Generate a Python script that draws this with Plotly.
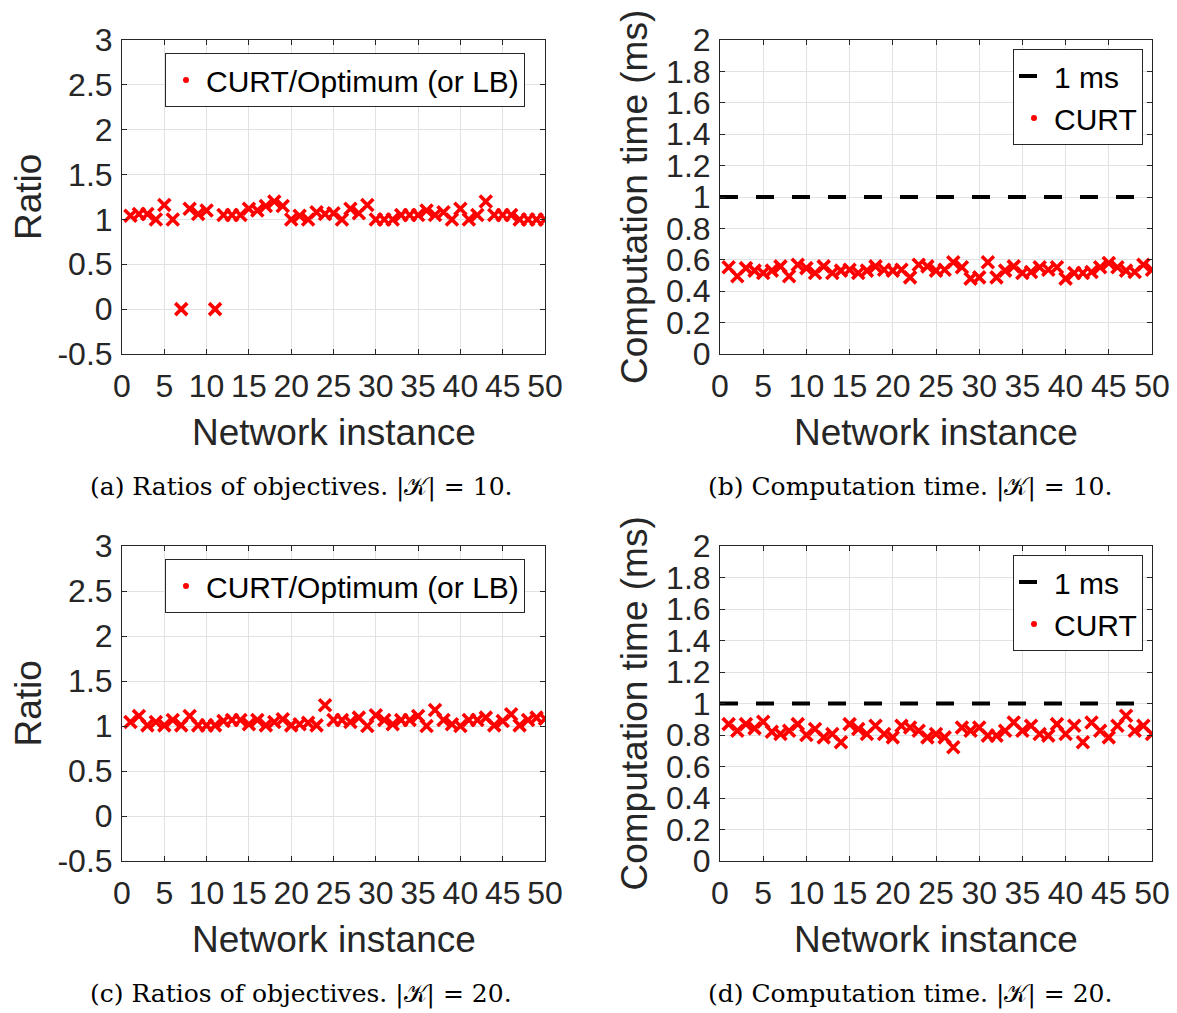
import plotly.graph_objects as go

W, H = 1177, 1013

# ---------------- data ----------------
instances = list(range(1, 51))

ratio_k10 = [1.04, 1.06, 1.06, 1.00, 1.16, 1.00, 0.00, 1.12, 1.06, 1.10,
             0.00, 1.05, 1.05, 1.05, 1.12, 1.10, 1.15, 1.20, 1.15, 1.00,
             1.04, 1.00, 1.08, 1.06, 1.07, 1.00, 1.12, 1.07, 1.16, 1.00,
             1.00, 1.00, 1.05, 1.05, 1.05, 1.10, 1.05, 1.08, 1.00, 1.12,
             1.00, 1.05, 1.20, 1.05, 1.05, 1.05, 1.00, 1.00, 1.00, 1.00]

time_k10 = [0.552, 0.495, 0.547, 0.531, 0.516, 0.531, 0.558, 0.495, 0.568, 0.547,
            0.516, 0.558, 0.516, 0.531, 0.537, 0.516, 0.531, 0.558, 0.537, 0.531,
            0.537, 0.488, 0.568, 0.558, 0.531, 0.537, 0.585, 0.552, 0.480, 0.488,
            0.585, 0.488, 0.531, 0.558, 0.516, 0.522, 0.552, 0.537, 0.552, 0.480,
            0.516, 0.516, 0.522, 0.552, 0.579, 0.552, 0.531, 0.522, 0.568, 0.537]

ratio_k20 = [1.044, 1.111, 1.007, 1.044, 1.007, 1.067, 1.007, 1.111, 1.007, 1.007,
             1.007, 1.056, 1.067, 1.067, 1.019, 1.067, 1.007, 1.044, 1.074, 1.007,
             1.019, 1.037, 1.007, 1.230, 1.067, 1.067, 1.044, 1.093, 1.000, 1.119,
             1.067, 1.019, 1.067, 1.067, 1.111, 1.000, 1.178, 1.067, 1.019, 1.000,
             1.067, 1.067, 1.093, 1.007, 1.056, 1.130, 1.007, 1.067, 1.093, 1.081]

time_k20 = [0.869, 0.827, 0.869, 0.842, 0.884, 0.821, 0.806, 0.827, 0.869, 0.800,
            0.838, 0.785, 0.806, 0.754, 0.869, 0.838, 0.806, 0.859, 0.806, 0.785,
            0.859, 0.848, 0.827, 0.785, 0.806, 0.785, 0.722, 0.848, 0.827, 0.848,
            0.796, 0.796, 0.827, 0.880, 0.827, 0.859, 0.806, 0.796, 0.869, 0.806,
            0.859, 0.754, 0.880, 0.827, 0.785, 0.859, 0.922, 0.827, 0.859, 0.806]

threshold_x = [0, 50]
threshold_ms = [1, 1]

x_ticks = [0, 5, 10, 15, 20, 25, 30, 35, 40, 45, 50]
ratio_ticks = [-0.5, 0, 0.5, 1, 1.5, 2, 2.5, 3]
ratio_ticktext = ["-0.5", "0", "0.5", "1", "1.5", "2", "2.5", "3"]
time_ticks = [0, 0.2, 0.4, 0.6, 0.8, 1.0, 1.2, 1.4, 1.6, 1.8, 2.0]
time_ticktext = ["0", "0.2", "0.4", "0.6", "0.8", "1", "1.2", "1.4", "1.6", "1.8", "2"]

captions = ["(a) Ratios of objectives. |𝒦| = 10.",
            "(b) Computation time. |𝒦| = 10.",
            "(c) Ratios of objectives. |𝒦| = 20.",
            "(d) Computation time. |𝒦| = 20."]

ratio_name = "CURT/Optimum (or LB)"
time_name = "CURT"
line_name = "1 ms"
xlabel = "Network instance"
ylabel_ratio = "Ratio"
ylabel_time = "Computation time (ms)"

# ---------------- layout helpers ----------------
SANS = "Liberation Sans, Arial, Helvetica, sans-serif"
SERIF = "DejaVu Serif, Liberation Serif, serif"
AX = "#262626"
GRID = "#e2e2e2"
RED = "#ff0000"


def px_x(p):
    """window pixel -> paper fraction"""
    return p / W


def px_y(p):
    return 1 - p / H


# plot-area pixel boxes (left, right, top, bottom)
boxes = {
    "a": (122, 545, 40, 354),
    "b": (720, 1152, 40, 354),
    "c": (122, 545, 546, 861),
    "d": (720, 1152, 546, 861),
}

fig = go.Figure()

marker_x = dict(symbol="x-thin", size=12, color=RED, line=dict(width=3.6, color=RED))
marker_dot = dict(symbol="circle", size=6, color=RED)

panel_defs = [
    ("a", "x", "y", ratio_k10, "ratio", "legend"),
    ("b", "x2", "y2", time_k10, "time", "legend2"),
    ("c", "x3", "y3", ratio_k20, "ratio", "legend3"),
    ("d", "x4", "y4", time_k20, "time", "legend4"),
]

for key, xa, ya, values, kind, leg in panel_defs:
    if kind == "time":
        fig.add_trace(go.Scatter(x=threshold_x, y=threshold_ms, mode="lines",
                                 line=dict(color="black", width=4, dash="18px,18px"),
                                 name=line_name, legend=leg, xaxis=xa, yaxis=ya,
                                 hoverinfo="skip"))
    fig.add_trace(go.Scatter(x=instances, y=values, mode="markers", marker=marker_x,
                             showlegend=False, xaxis=xa, yaxis=ya))
    # legend proxy (Matlab-style small dot in the legend)
    fig.add_trace(go.Scatter(x=[None], y=[None], mode="markers", marker=marker_dot,
                             name=ratio_name if kind == "ratio" else time_name,
                             legend=leg, xaxis=xa, yaxis=ya))

layout = dict(
    width=W, height=H,
    margin=dict(l=0, r=0, t=0, b=0, pad=0, autoexpand=False),
    paper_bgcolor="white", plot_bgcolor="white",
    showlegend=True,
    font=dict(family=SANS, color=AX),
)

annotations = []
for idx, (key, xa, ya, values, kind, leg) in enumerate(panel_defs):
    l, r, t, b = boxes[key]
    xname = "xaxis" if xa == "x" else "xaxis" + xa[1:]
    yname = "yaxis" if ya == "y" else "yaxis" + ya[1:]
    common = dict(showline=True, linecolor=AX, linewidth=1, mirror="ticks",
                  ticks="inside", ticklen=5, tickcolor=AX, showgrid=True,
                  gridcolor=GRID, gridwidth=1, zeroline=False, automargin=False,
                  ticklabeloverflow="allow",
                  tickfont=dict(family=SANS, size=32, color=AX))
    layout[xname] = dict(common, domain=[px_x(l), px_x(r)], range=[0, 50],
                         tickvals=x_ticks, anchor=ya, ticklabelstandoff=4)
    if kind == "ratio":
        layout[yname] = dict(common, domain=[px_y(b), px_y(t)], range=[-0.5, 3],
                             tickvals=ratio_ticks, ticktext=ratio_ticktext,
                             anchor=xa, ticklabelstandoff=2)
    else:
        layout[yname] = dict(common, domain=[px_y(b), px_y(t)], range=[0, 2],
                             tickvals=time_ticks, ticktext=time_ticktext,
                             anchor=xa, ticklabelstandoff=2)

    # legend
    if kind == "ratio":
        lx, ly = 165, t + 13
    else:
        lx, ly = 1013, t + 9
    layout[leg] = dict(x=px_x(lx), y=px_y(ly), xanchor="left", yanchor="top",
                       xref="paper", yref="paper",
                       font=dict(family=SANS, size=30, color="black"),
                       bgcolor="white", bordercolor=AX, borderwidth=1,
                       itemwidth=30, tracegroupgap=0)

    cx = (l + r) / 2
    cy = (t + b) / 2
    # x-axis title
    annotations.append(dict(text=xlabel, x=px_x(cx), y=px_y(b + 78), xref="paper", yref="paper",
                            showarrow=False, xanchor="center", yanchor="middle",
                            font=dict(family=SANS, size=37, color=AX)))
    # y-axis title
    if kind == "ratio":
        annotations.append(dict(text=ylabel_ratio, x=px_x(28), y=px_y(cy), xref="paper", yref="paper",
                                showarrow=False, xanchor="center", yanchor="middle", textangle=-90,
                                font=dict(family=SANS, size=37, color=AX)))
    else:
        annotations.append(dict(text=ylabel_time, x=px_x(634), y=px_y(cy), xref="paper", yref="paper",
                                showarrow=False, xanchor="center", yanchor="middle", textangle=-90,
                                font=dict(family=SANS, size=37, color=AX)))
    # caption
    capx = 301 if kind == "ratio" else 910
    annotations.append(dict(text=captions[idx], x=px_x(capx), y=px_y(b + 133), xref="paper", yref="paper",
                            showarrow=False, xanchor="center", yanchor="middle",
                            font=dict(family=SERIF, size=25, color="black")))

layout["annotations"] = annotations
fig.update_layout(**layout)

# remove the default page margin so the figure fills the 1177x1013 window exactly
fig.write_html("out.html",
               config={"displayModeBar": False},
               post_script="document.body.style.margin='0px';document.body.style.overflow='hidden';")
